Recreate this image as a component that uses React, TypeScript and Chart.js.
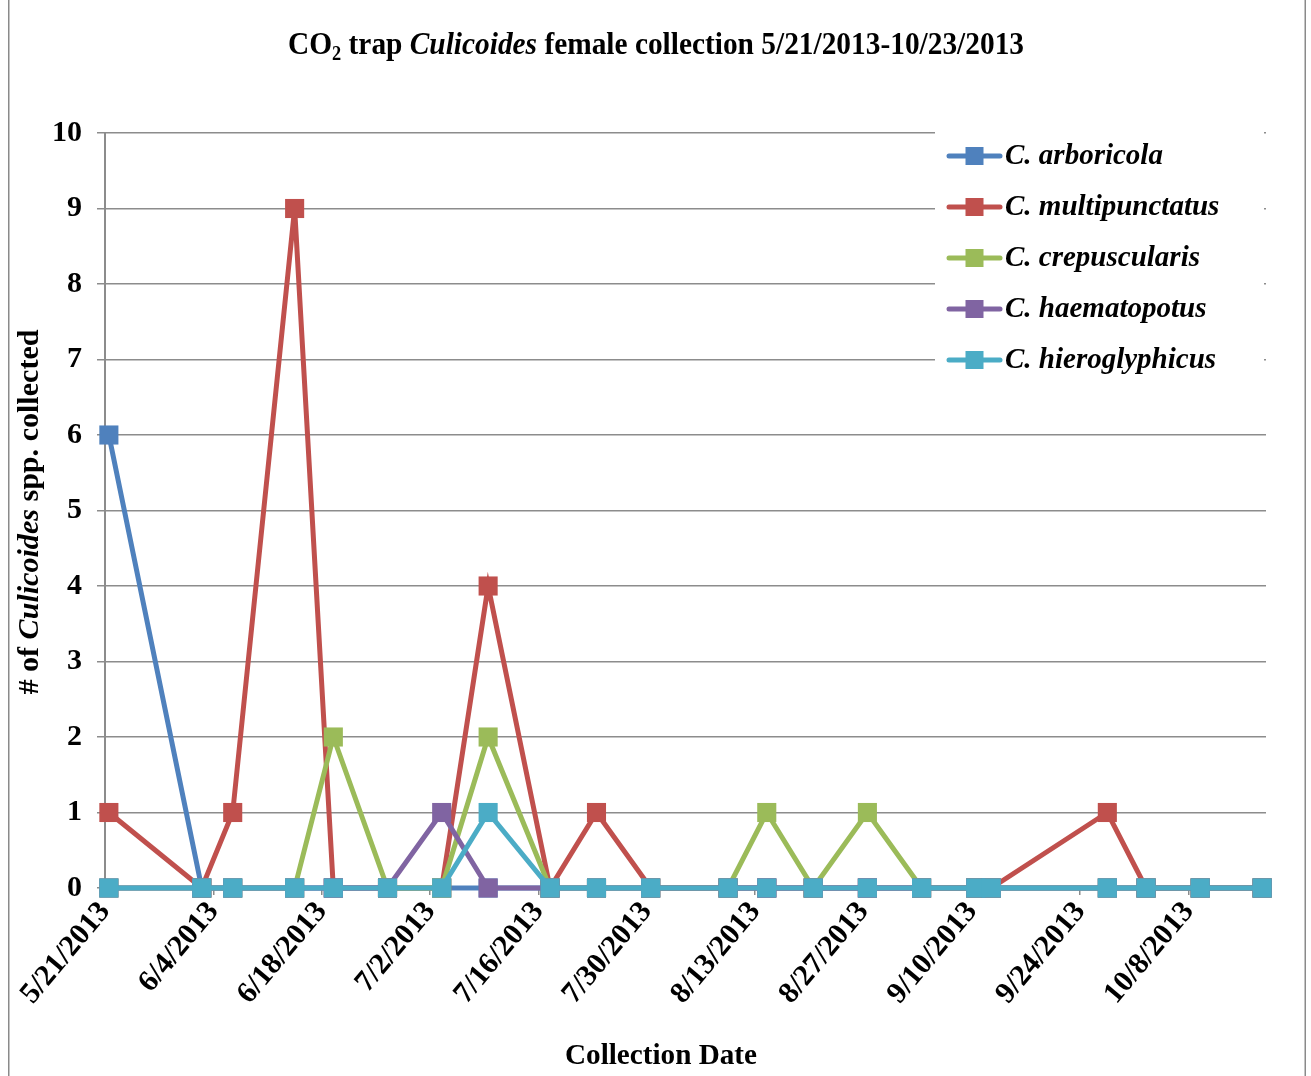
import React, { useEffect, useRef } from 'react';
import { Chart, registerables } from 'chart.js';

Chart.register(...registerables);

// ---------- data ----------
const collectionDates = [
  '5/21/2013', '6/2/2013', '6/6/2013', '6/14/2013', '6/19/2013', '6/26/2013',
  '7/3/2013', '7/9/2013', '7/17/2013', '7/23/2013', '7/30/2013', '8/9/2013',
  '8/14/2013', '8/20/2013', '8/27/2013', '9/3/2013', '9/10/2013', '9/12/2013',
  '9/27/2013', '10/2/2013', '10/9/2013', '10/17/2013',
];

const seriesNames = ['C. arboricola', 'C. multipunctatus', 'C. crepuscularis', 'C. haematopotus', 'C. hieroglyphicus'];

const arboricola = [6, 0, 0, 0, 0, 0, 0, 0, 0, 0, 0, 0, 0, 0, 0, 0, 0, 0, 0, 0, 0, 0];
const multipunctatus = [1, 0, 1, 9, 0, 0, 0, 4, 0, 1, 0, 0, 0, 0, 0, 0, 0, 0, 1, 0, 0, 0];
const crepuscularis = [0, 0, 0, 0, 2, 0, 0, 2, 0, 0, 0, 0, 1, 0, 1, 0, 0, 0, 0, 0, 0, 0];
const haematopotus = [0, 0, 0, 0, 0, 0, 1, 0, 0, 0, 0, 0, 0, 0, 0, 0, 0, 0, 0, 0, 0, 0];
const hieroglyphicus = [0, 0, 0, 0, 0, 0, 0, 1, 0, 0, 0, 0, 0, 0, 0, 0, 0, 0, 0, 0, 0, 0];

const xTickLabels = [
  '5/21/2013', '6/4/2013', '6/18/2013', '7/2/2013', '7/16/2013', '7/30/2013',
  '8/13/2013', '8/27/2013', '9/10/2013', '9/24/2013', '10/8/2013',
];

const seriesColors = ['#4F81BD', '#C0504D', '#9BBB59', '#8064A2', '#4BACC6'];

// ---------- helpers ----------
const FONT = '"Liberation Serif", "DejaVu Serif", serif';

function utc(s: string): number {
  const [m, d, y] = s.split('/').map(Number);
  return Date.UTC(y, m - 1, d);
}
const baseTime = utc(collectionDates[0]);
function dayOf(s: string): number {
  return Math.round((utc(s) - baseTime) / 86400000);
}

type Seg = { t: string; f: string; dy?: number };

function drawSegments(
  ctx: CanvasRenderingContext2D,
  segs: Seg[],
  cx: number,
  cy: number,
  targetW: number,
  rotation: number,
  baseline: CanvasTextBaseline,
) {
  ctx.save();
  let total = 0;
  const widths = segs.map((s) => {
    ctx.font = s.f;
    const w = ctx.measureText(s.t).width;
    total += w;
    return w;
  });
  const sx = targetW / total;
  ctx.translate(cx, cy);
  ctx.rotate(rotation);
  ctx.scale(sx, 1);
  ctx.fillStyle = '#000';
  ctx.textBaseline = baseline;
  ctx.textAlign = 'left';
  let x = -total / 2;
  segs.forEach((s, i) => {
    ctx.font = s.f;
    ctx.fillText(s.t, x, s.dy || 0);
    x += widths[i];
  });
  ctx.restore();
}

const decorPlugin = {
  id: 'decor',
  beforeDraw(chart: any) {
    const { ctx, width, height } = chart;
    ctx.save();
    ctx.fillStyle = '#ffffff';
    ctx.fillRect(0, 0, width, height);
    ctx.strokeStyle = '#8a8a8a';
    ctx.lineWidth = 1.5;
    ctx.beginPath();
    ctx.moveTo(0.75, 0);
    ctx.lineTo(0.75, height);
    ctx.moveTo(1297.25, 0);
    ctx.lineTo(1297.25, height);
    ctx.stroke();
    ctx.restore();
  },
  afterDatasetsDraw(chart: any) {
    const { ctx } = chart;
    // legend box
    ctx.save();
    ctx.fillStyle = '#ffffff';
    ctx.fillRect(927, 124, 329, 266);
    const rowY = [156, 207, 258, 309, 360];
    chart.data.datasets.forEach((ds: any, i: number) => {
      const y = rowY[i];
      ctx.strokeStyle = ds.borderColor;
      ctx.lineWidth = 5;
      ctx.lineCap = 'round';
      ctx.beginPath();
      ctx.moveTo(941, y);
      ctx.lineTo(992, y);
      ctx.stroke();
      ctx.fillStyle = ds.borderColor;
      ctx.fillRect(966.5 - 9, y - 9, 18, 18);
      ctx.fillStyle = '#000';
      ctx.font = `italic bold 29px ${FONT}`;
      ctx.textBaseline = 'middle';
      ctx.textAlign = 'left';
      ctx.fillText(ds.label, 997, y + 1);
    });
    ctx.restore();
  },
  afterDraw(chart: any) {
    const { ctx } = chart;
    // title
    drawSegments(
      ctx,
      [
        { t: 'CO', f: `bold 32px ${FONT}` },
        { t: '2', f: `bold 20px ${FONT}`, dy: 6 },
        { t: ' trap ', f: `bold 32px ${FONT}` },
        { t: 'Culicoides', f: `italic bold 32px ${FONT}` },
        { t: ' female collection 5/21/2013-10/23/2013', f: `bold 32px ${FONT}` },
      ],
      648,
      54,
      736,
      0,
      'alphabetic',
    );
    // y axis title
    drawSegments(
      ctx,
      [
        { t: '# of ', f: `bold 30px ${FONT}` },
        { t: 'Culicoides', f: `italic bold 30px ${FONT}` },
        { t: ' spp. collected', f: `bold 30px ${FONT}` },
      ],
      22,
      512,
      365,
      -Math.PI / 2,
      'middle',
    );
    // x axis title
    drawSegments(
      ctx,
      [{ t: 'Collection Date', f: `bold 30px ${FONT}` }],
      653,
      1064,
      192,
      0,
      'alphabetic',
    );
  },
};

export default function App() {
  const ref = useRef<HTMLCanvasElement | null>(null);

  useEffect(() => {
    if (!ref.current) return;
    const seriesValues = [arboricola, multipunctatus, crepuscularis, haematopotus, hieroglyphicus];
    const xs = collectionDates.map((d) => dayOf(d) + 0.5);
    const tickDays = xTickLabels.map((l) => dayOf(l));
    const lastDay = dayOf(collectionDates[collectionDates.length - 1]) + 1;

    const datasets = seriesValues.map((vals, i) => ({
      label: seriesNames[i],
      data: vals.map((v, j) => ({ x: xs[j], y: v })),
      borderColor: seriesColors[i],
      backgroundColor: seriesColors[i],
      pointBackgroundColor: seriesColors[i],
      pointBorderWidth: 0,
      borderWidth: 5,
      pointStyle: 'rect' as const,
      pointRadius: 13.5,
      pointHoverRadius: 13.5,
      tension: 0,
      clip: false as const,
      order: seriesValues.length - 1 - i,
    }));

    const chart = new Chart(ref.current, {
      type: 'line',
      data: { datasets },
      plugins: [decorPlugin],
      options: {
        animation: false,
        responsive: false,
        events: [],
        layout: { padding: { left: 0, right: 40, top: 133, bottom: 0 } },
        plugins: {
          legend: { display: false },
          title: { display: false },
          tooltip: { enabled: false },
        },
        scales: {
          x: {
            type: 'linear',
            min: 0,
            max: lastDay,
            afterBuildTicks: (scale: any) => {
              scale.ticks = tickDays.map((v) => ({ value: v }));
            },
            afterFit: (scale: any) => {
              scale.height = 188;
            },
            ticks: {
              autoSkip: false,
              minRotation: 50,
              maxRotation: 50,
              padding: 0,
              color: '#000',
              font: { family: FONT, size: 30, weight: 'bold' },
              callback: (value: any) => {
                const idx = tickDays.indexOf(Number(value));
                return idx >= 0 ? xTickLabels[idx] : '';
              },
            },
            grid: {
              drawOnChartArea: false,
              drawTicks: true,
              tickLength: 7,
              color: '#8c8c8c',
              lineWidth: 1.5,
            },
            border: { display: true, color: '#8c8c8c', width: 1.5 },
            title: { display: false },
          },
          y: {
            min: 0,
            max: 10,
            afterFit: (scale: any) => {
              scale.width = 97;
            },
            ticks: {
              stepSize: 1,
              padding: 15,
              color: '#000',
              font: { family: FONT, size: 30, weight: 'bold' },
            },
            grid: {
              color: '#8c8c8c',
              lineWidth: 1.5,
              tickLength: 8,
            },
            border: { display: true, color: '#8c8c8c', width: 2 },
          },
        },
      },
    });
    return () => chart.destroy();
  }, []);

  return (
    <div style={{ position: 'absolute', left: 8, top: 0 }}>
      <canvas ref={ref} width={1298} height={1076} style={{ display: 'block' }} />
    </div>
  );
}
